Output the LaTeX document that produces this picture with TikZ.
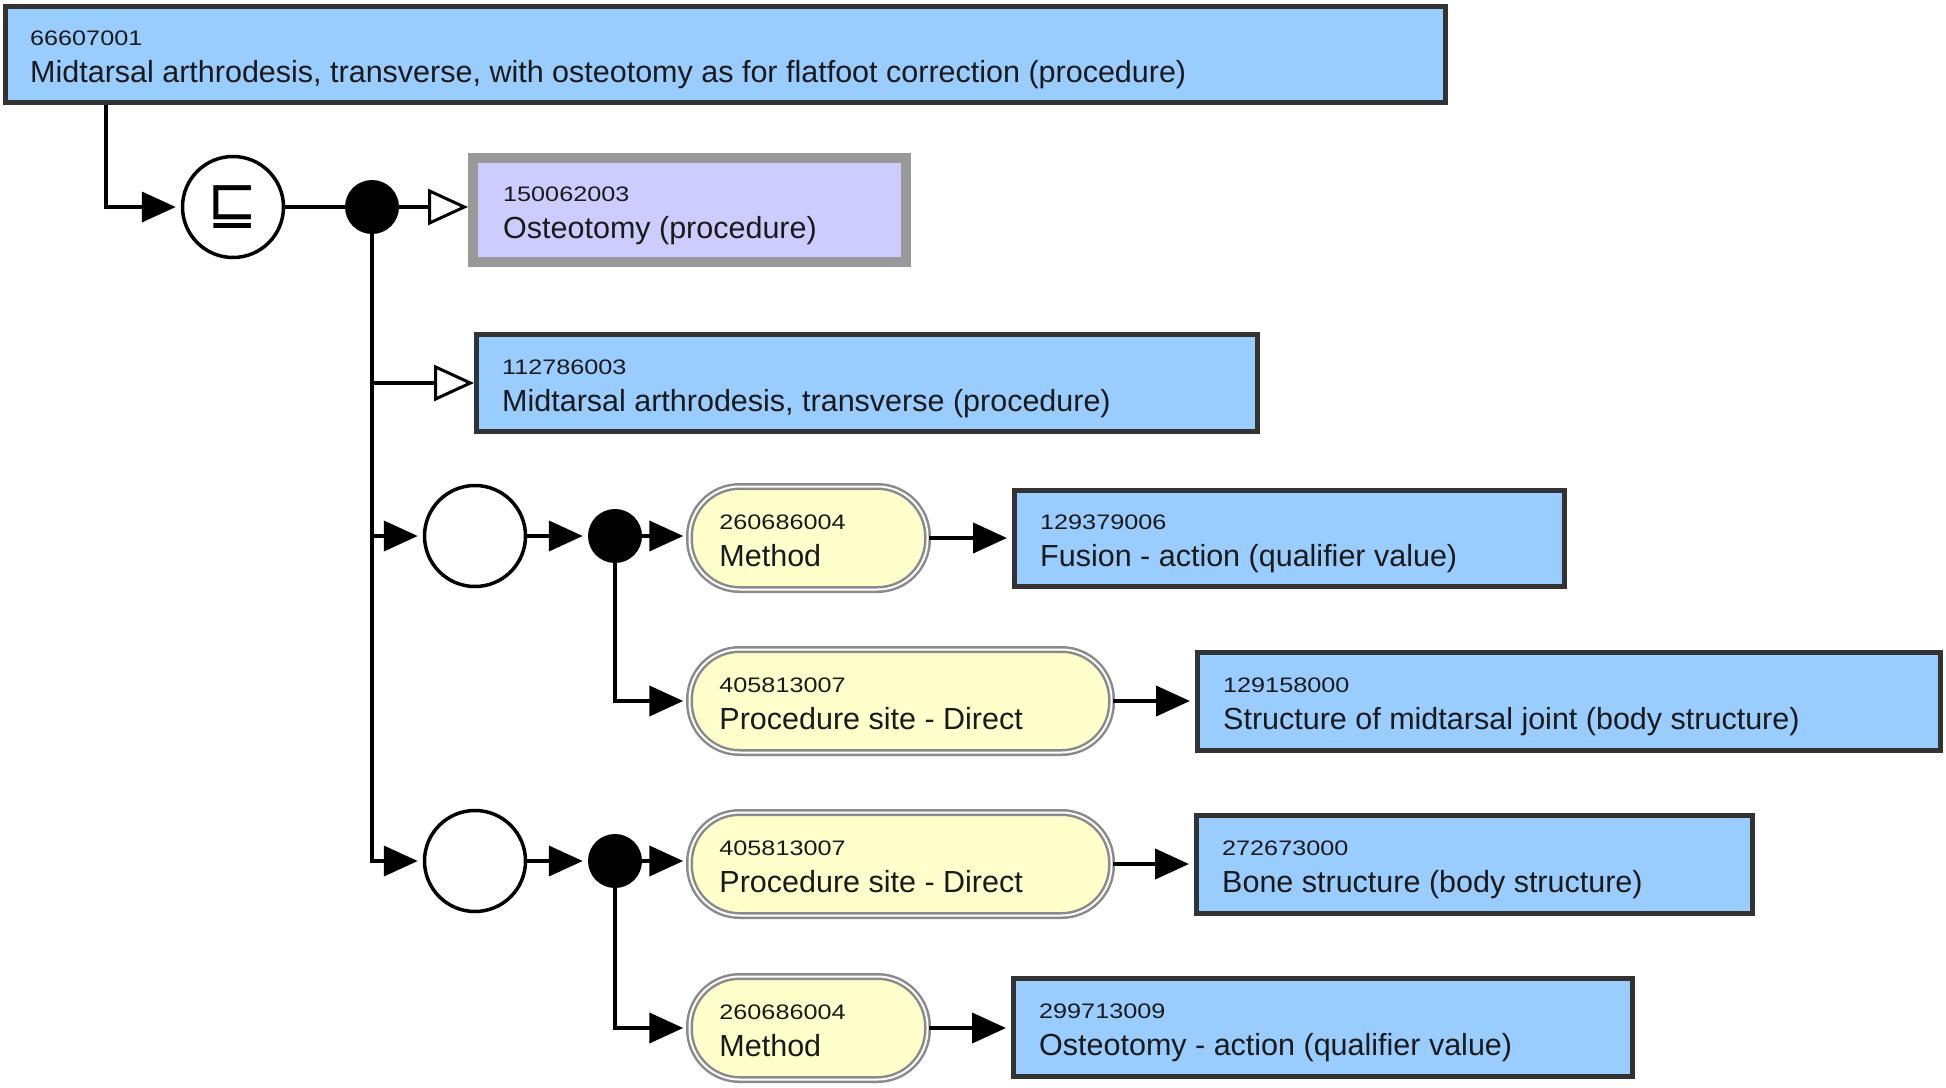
\documentclass[tikz,border=0pt]{standalone}
\usepackage{fontspec}
\setmainfont{Liberation Sans}
\newfontfamily\idfont[FakeStretch=1.2]{Liberation Sans}
\newfontfamily\symfont{DejaVu Sans}
\usetikzlibrary{arrows.meta}
\definecolor{boxblue}{HTML}{99CCFF}
\definecolor{boxedge}{HTML}{333333}
\definecolor{lavender}{HTML}{CCCCFF}
\definecolor{lavedge}{HTML}{999999}
\definecolor{pillyellow}{HTML}{FFFFCC}
\definecolor{pillgray}{HTML}{8A8A8A}
\definecolor{textc}{HTML}{1A1A1A}
\tikzset{
  conn/.style={line width=4pt, draw=black},
  farrow/.style={conn, -{Triangle[length=34pt,width=30pt]}, shorten >=5pt},
  oarrow/.style={conn, -{Triangle[open,length=40pt,width=36pt,fill=white,line width=3pt]}},
  bluebox/.style={rectangle, draw=boxedge, line width=5pt, fill=boxblue, inner sep=0pt},
  purplebox/.style={rectangle, draw=lavedge, line width=10pt, fill=lavender, inner sep=0pt},
  pill/.style={rectangle, draw=pillgray, line width=2.5pt, double=white, double distance=2pt, fill=pillyellow, rounded corners=50pt, inner sep=0pt},
  ring/.style={circle, draw=black, line width=3.5pt, fill=white, minimum size=101pt, inner sep=0pt},
  blob/.style={circle, fill=black, minimum size=54pt, inner sep=0pt},
  idtxt/.style={anchor=base west, inner sep=0pt, text=textc, font=\idfont\fontsize{21}{25}\selectfont},
  lbl/.style={anchor=base west, inner sep=0pt, text=textc, font=\fontsize{30.5}{36}\selectfont},
}
\begin{document}
\begin{tikzpicture}[x=1pt,y=-1pt]
\useasboundingbox (0,0) rectangle (1946,1087);
% boxes
\node[bluebox, minimum width=1440pt, minimum height=96pt] (b0) at (725.5,54.5) {};
\node[purplebox, minimum width=433pt, minimum height=104pt] (b1) at (689.5,210) {};
\node[bluebox, minimum width=781pt, minimum height=97pt] (b2) at (867,383) {};
\node[pill, minimum width=238pt, minimum height=103pt] (p1) at (808.5,538) {};
\node[bluebox, minimum width=550pt, minimum height=96pt] (b3) at (1289.5,538.5) {};
\node[pill, minimum width=422pt, minimum height=103pt] (p2) at (900.5,701) {};
\node[bluebox, minimum width=743pt, minimum height=98pt] (b4) at (1569,701.5) {};
\node[pill, minimum width=422pt, minimum height=103pt] (p3) at (900.5,864) {};
\node[bluebox, minimum width=556pt, minimum height=98pt] (b5) at (1474.5,864.5) {};
\node[pill, minimum width=238pt, minimum height=103pt] (p4) at (808.5,1028) {};
\node[bluebox, minimum width=619pt, minimum height=98pt] (b6) at (1323,1027.5) {};
% circles
\node[ring] (c0) at (233,207) {};
\node[font=\symfont\fontsize{60}{60}\selectfont, inner sep=0pt, anchor=base] (sq) at (233,223) {⊑};
\node[blob] (d1) at (372,207) {};
\node[ring] (c2) at (475,536) {};
\node[blob] (d2) at (615,536) {};
\node[ring] (c3) at (475,861) {};
\node[blob] (d3) at (615,861) {};
% texts
\node[idtxt] (t0a) at ([xshift=27pt,yshift=9pt]b0.west) {66607001};
\node[lbl] (t0b) at ([xshift=27pt,yshift=-28pt]b0.west) {Midtarsal arthrodesis, transverse, with osteotomy as for flatfoot correction (procedure)};
\node[idtxt] (t1a) at ([xshift=35pt,yshift=9pt]b1.west) {150062003};
\node[lbl] (t1b) at ([xshift=35pt,yshift=-28pt]b1.west) {Osteotomy (procedure)};
\node[idtxt] (t2a) at ([xshift=28pt,yshift=9pt]b2.west) {112786003};
\node[lbl] (t2b) at ([xshift=28pt,yshift=-28pt]b2.west) {Midtarsal arthrodesis, transverse (procedure)};
\node[idtxt] (tp1a) at ([xshift=31pt,yshift=9pt]p1.west) {260686004};
\node[lbl] (tp1b) at ([xshift=31pt,yshift=-28pt]p1.west) {Method};
\node[idtxt] (t3a) at ([xshift=28pt,yshift=9pt]b3.west) {129379006};
\node[lbl] (t3b) at ([xshift=28pt,yshift=-28pt]b3.west) {Fusion - action (qualifier value)};
\node[idtxt] (tp2a) at ([xshift=31pt,yshift=9pt]p2.west) {405813007};
\node[lbl] (tp2b) at ([xshift=31pt,yshift=-28pt]p2.west) {Procedure site - Direct};
\node[idtxt] (t4a) at ([xshift=28pt,yshift=9pt]b4.west) {129158000};
\node[lbl] (t4b) at ([xshift=28pt,yshift=-28pt]b4.west) {Structure of midtarsal joint (body structure)};
\node[idtxt] (tp3a) at ([xshift=31pt,yshift=9pt]p3.west) {405813007};
\node[lbl] (tp3b) at ([xshift=31pt,yshift=-28pt]p3.west) {Procedure site - Direct};
\node[idtxt] (t5a) at ([xshift=28pt,yshift=9pt]b5.west) {272673000};
\node[lbl] (t5b) at ([xshift=28pt,yshift=-28pt]b5.west) {Bone structure (body structure)};
\node[idtxt] (tp4a) at ([xshift=31pt,yshift=9pt]p4.west) {260686004};
\node[lbl] (tp4b) at ([xshift=31pt,yshift=-28pt]p4.west) {Method};
\node[idtxt] (t6a) at ([xshift=28pt,yshift=9pt]b6.west) {299713009};
\node[lbl] (t6b) at ([xshift=28pt,yshift=-28pt]b6.west) {Osteotomy - action (qualifier value)};
% connectors
\coordinate (j0) at (106,207);
\draw[farrow] (j0 |- b0.south) |- (c0.west);
\draw[conn] (c0.east) -- (d1.west);
\draw[oarrow] (d1.east) -- (d1.east -| b1.west);
\draw[farrow] (d1.center) |- (c3.west);
\draw[oarrow] (d1 |- b2.west) -- (b2.west);
\draw[farrow] (d1 |- c2.west) -- (c2.west);
\draw[farrow] (c2.east) -- (d2.west);
\draw[farrow] (d2.east) -- (d2.east -| p1.west);
\draw[farrow] (d2.center) |- (p2.west);
\draw[farrow] (c3.east) -- (d3.west);
\draw[farrow] (d3.east) -- (d3.east -| p3.west);
\draw[farrow] (d3.center) |- (p4.west);
\draw[farrow] (p1.east) -- (p1.east -| b3.west);
\draw[farrow] (p2.east) -- (p2.east -| b4.west);
\draw[farrow] (p3.east) -- (p3.east -| b5.west);
\draw[farrow] (p4.east) -- (p4.east -| b6.west);
\end{tikzpicture}
\end{document}
